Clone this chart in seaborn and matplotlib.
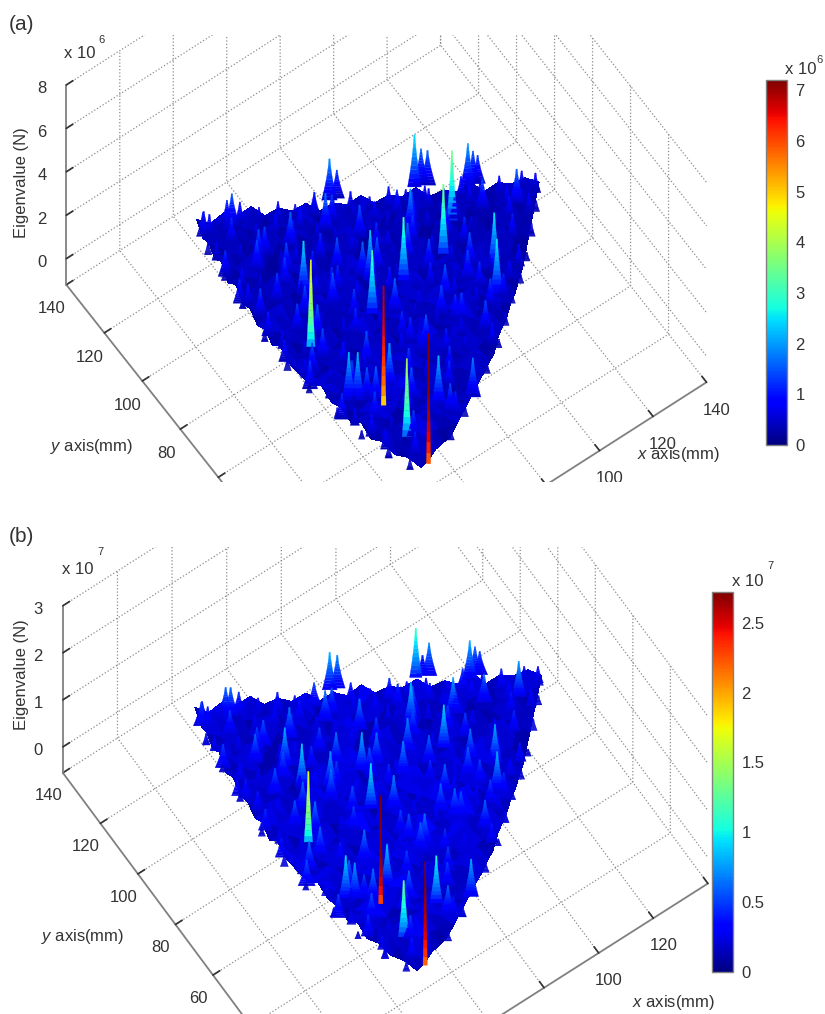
import numpy as np
import seaborn as sns
import matplotlib
import matplotlib.pyplot as plt
from matplotlib.cm import ScalarMappable
from matplotlib.colors import Normalize
from matplotlib.transforms import Bbox, ScaledTranslation, TransformedBbox
from mpl_toolkits.mplot3d.art3d import Poly3DCollection

W, H = 825, 1014
TEXT = '#333333'
AXIS = '#808080'

sns.set_theme(style='white', rc={'grid.linestyle': ':', 'grid.linewidth': 0.9, 'grid.color': '#8c8c8c',
                                 'text.color': TEXT, 'xtick.color': TEXT, 'ytick.color': TEXT,
                                 'axes.labelcolor': TEXT})
plt.rcParams['font.family'] = ['Liberation Sans', 'DejaVu Sans']
plt.rcParams['mathtext.fontset'] = 'custom'
plt.rcParams['mathtext.it'] = 'Liberation Sans:italic'
plt.rcParams['mathtext.rm'] = 'Liberation Sans'
jet = matplotlib.colormaps['jet']

# outline of the eigenvalue surface in mm, fraction along each edge from the bottom tip
left_t = [0, 0.13, 0.35, 0.52, 0.82, 1]
left_x = [46, 40, 36, 33, 35, 38]
left_y = [18, 32, 55, 74, 106, 125]
right_t = [0, 0.2, 0.49, 0.74, 1]
right_x = [46, 63, 88, 109, 131]
right_y = [18, 23, 38, 54, 75.5]

# base heights, (a) in 1e5 N and (b) in 1e6 N, rows from bottom tip to far edge
base_a = [
    [4], [6, 3], [3, 8, 5], [7, 2, 9, 4], [3, 10, 4, 7, 2], [8, 3, 6, 12, 3, 6],
    [2, 9, 4, 3, 8, 5, 10], [6, 3, 13, 5, 2, 9, 3, 6], [4, 8, 2, 7, 11, 3, 7, 2, 9],
    [9, 3, 6, 2, 5, 14, 4, 8, 3, 5], [3, 11, 5, 8, 3, 6, 2, 10, 4, 7, 3],
    [7, 2, 6, 3, 12, 4, 8, 3, 6, 2, 11, 5], [4, 9, 3, 10, 2, 7, 3, 13, 5, 8, 3, 6, 2],
    [10, 3, 7, 4, 6, 2, 11, 4, 3, 9, 5, 12, 3, 6], [3, 6, 2, 12, 3, 9, 4, 6, 2, 14, 4, 7, 3, 9, 4],
    [7, 4, 10, 3, 5, 2, 13, 3, 8, 4, 6, 2, 10, 3, 7, 2], [2, 11, 3, 6, 2, 9, 4, 5, 2, 11, 3, 8, 4, 13, 2, 6, 4],
    [6, 3, 8, 4, 13, 3, 6, 2, 10, 4, 6, 2, 12, 3, 7, 3, 9, 2],
    [3, 9, 2, 5, 3, 7, 2, 12, 3, 7, 2, 14, 4, 5, 2, 10, 3, 6, 4],
    [8, 4, 6, 11, 2, 4, 10, 3, 6, 2, 9, 3, 6, 3, 11, 4, 7, 2, 8, 3],
    [2, 6, 3, 3, 8, 3, 5, 2, 13, 4, 6, 2, 10, 4, 3, 8, 2, 12, 3, 5, 2],
    [9, 3, 11, 4, 2, 10, 3, 7, 2, 5, 3, 11, 3, 6, 9, 2, 6, 3, 5, 10, 3, 4],
    [3, 7, 2, 6, 3, 5, 2, 9, 3, 12, 4, 2, 8, 3, 4, 2, 10, 3, 8, 2, 6, 3, 7],
    [6, 2, 8, 3, 12, 3, 7, 2, 6, 3, 7, 3, 5, 2, 11, 4, 3, 7, 2, 5, 3, 9, 3, 5],
    [2, 10, 3, 5, 2, 6, 3, 11, 2, 4, 9, 2, 12, 3, 6, 2, 8, 3, 12, 3, 6, 2, 6, 3, 7],
    [7, 3, 9, 6, 11, 4, 8, 5, 9, 3, 7, 5, 10, 4, 8, 6, 11, 4, 7, 5, 10, 3, 8, 6, 9, 5],
]
base_b = [
    [2], [3, 2], [2, 5, 3], [4, 2, 6, 2], [2, 6, 3, 4, 2], [5, 2, 4, 7, 2, 4],
    [2, 6, 3, 2, 5, 3, 6], [4, 2, 8, 3, 2, 6, 2, 4], [3, 5, 2, 4, 7, 2, 5, 2, 6],
    [6, 2, 4, 2, 3, 8, 3, 5, 2, 3], [2, 7, 3, 5, 2, 4, 2, 6, 3, 5, 2],
    [5, 2, 4, 2, 8, 3, 5, 2, 4, 2, 7, 3], [3, 6, 2, 7, 2, 5, 2, 8, 3, 5, 2, 4, 2],
    [7, 2, 5, 3, 4, 2, 7, 3, 2, 6, 3, 8, 2, 4], [2, 4, 2, 8, 2, 6, 3, 4, 2, 9, 3, 5, 2, 6, 3],
    [5, 3, 7, 2, 3, 2, 9, 2, 5, 3, 4, 2, 7, 2, 5, 2], [2, 7, 2, 4, 2, 6, 3, 3, 2, 7, 2, 5, 3, 9, 2, 4, 3],
    [4, 2, 5, 3, 9, 2, 4, 2, 7, 3, 4, 2, 8, 2, 5, 2, 6, 2],
    [2, 6, 2, 3, 2, 5, 2, 8, 2, 5, 2, 9, 3, 3, 2, 7, 2, 4, 3],
    [5, 3, 4, 7, 2, 3, 7, 2, 4, 2, 6, 2, 4, 2, 7, 3, 5, 2, 5, 2],
    [2, 4, 2, 2, 5, 2, 3, 2, 9, 3, 4, 2, 7, 3, 2, 5, 2, 8, 2, 3, 2],
    [6, 2, 7, 3, 2, 7, 2, 5, 2, 3, 2, 7, 2, 4, 6, 2, 4, 2, 3, 7, 2, 3],
    [2, 5, 2, 4, 2, 3, 2, 6, 2, 8, 3, 2, 5, 2, 3, 2, 7, 2, 5, 2, 4, 2, 5],
    [4, 2, 5, 2, 8, 2, 5, 2, 4, 2, 5, 2, 3, 2, 7, 3, 2, 5, 2, 3, 2, 6, 2, 3],
    [2, 7, 2, 3, 2, 4, 2, 7, 2, 3, 6, 2, 8, 2, 4, 2, 5, 2, 8, 2, 4, 2, 4, 2, 5],
    [5, 2, 6, 4, 7, 3, 5, 3, 6, 2, 5, 3, 7, 3, 5, 4, 7, 3, 5, 3, 7, 2, 5, 4, 6, 3],
]

# the tall peaks: position in mm, height in (a) 1e6 N, in (b) 1e7 N
peak_x = [50.1, 49.8, 49.7, 43.5, 52.2, 65.3, 79.6, 94.7, 103.4, 100.6, 102.9, 104.2, 76.9, 79.1, 47.5, 46.3,
          38.3, 113.9, 115.8, 117.0, 104.7, 100.2, 42.5, 44.7, 47.0, 55.2, 64.1, 73.9, 38.6, 71.3, 70.1, 91.1,
          84.6, 86.6, 95.5, 95.9, 59.2, 70.0, 58.0, 36.8, 34.3, 47.5, 51.8, 68.9, 69.8, 65.0, 122.7]
peak_y = [43.5, 19.4, 30.7, 72.5, 88.6, 70.9, 74.5, 74.8, 82.5, 98.3, 98.1, 96.5, 109.7, 108.9, 119.7, 120.6,
          122.0, 88.9, 88.9, 88.1, 62.1, 54.4, 51.1, 49.5, 47.9, 47.6, 34.3, 30.0, 64.9, 80.4, 82.7, 87.1,
          54.3, 62.5, 63.1, 51.8, 83.6, 102.1, 103.7, 89.7, 97.1, 105.7, 97.1, 55.9, 51.0, 29.4, 75.6]
peak_a = [5.5, 6.0, 3.6, 4.0, 2.4, 2.9, 2.9, 3.2, 3.2, 2.4, 1.6, 1.6, 1.9, 1.3, 1.5, 1.2,
          1.1, 2.0, 1.5, 1.3, 2.5, 2.5, 2.2, 2.2, 1.5, 2.0, 2.2, 1.8, 1.4, 2.3, 1.6, 1.9,
          1.2, 1.5, 1.4, 1.3, 1.2, 1.7, 1.6, 1.3, 1.1, 1.4, 1.4, 1.2, 1.0, 1.4, 1.6]
peak_b = [2.3, 2.2, 1.2, 1.5, 0.9, 0.95, 0.7, 0.9, 0.75, 1.05, 0.4, 0.7, 0.8, 0.7, 0.6, 0.6,
          0.5, 0.8, 0.6, 0.5, 0.8, 0.8, 0.9, 0.75, 0.5, 0.85, 1.0, 0.8, 0.6, 0.55, 0.8, 0.85,
          0.6, 0.6, 0.6, 0.5, 0.75, 0.65, 0.65, 0.4, 0.35, 0.5, 0.8, 0.55, 0.6, 0.6, 0.75]

# the many small bumps between them, same units
bump_x = [48, 55,
          42, 51, 58, 66,
          41, 47, 55, 60, 70, 78,
          39, 45, 52, 58, 66, 73, 81, 89,
          37, 43, 49, 57, 62, 69, 76, 83, 90, 97,
          38, 45, 52, 59, 65, 72, 79, 86, 93, 101, 106,
          35, 41, 48, 54, 62, 68, 75, 82, 89, 97, 103, 111,
          36, 44, 50, 57, 64, 71, 78, 85, 92, 99, 107, 115,
          34, 40, 47, 54, 60, 67, 74, 81, 88, 95, 102, 110, 118, 124,
          36, 43, 50, 57, 64, 71, 78, 85, 92, 99, 106, 113, 120, 127,
          35, 41, 48, 55, 61, 68, 75, 82, 89, 96, 104, 111,
          37, 44, 51, 58, 65, 72, 79, 86, 93, 100,
          36, 42, 49, 56, 63, 70, 77, 84, 91,
          38, 45, 52, 59, 66, 73, 79,
          36, 43, 50, 57, 64,
          37, 44, 51,
          40, 45]
bump_y = [24, 26,
          31, 29, 32, 28,
          37, 35, 38, 34, 37, 35,
          43, 41, 44, 40, 43, 41, 44, 41,
          47, 49, 46, 49, 47, 50, 47, 49, 46, 49,
          55, 53, 56, 53, 55, 52, 56, 53, 55, 52, 56,
          61, 59, 62, 58, 61, 59, 62, 58, 61, 59, 62, 58,
          65, 67, 64, 68, 65, 67, 64, 68, 65, 67, 64, 67,
          73, 71, 74, 70, 73, 71, 74, 70, 73, 71, 74, 70, 73, 71,
          77, 79, 76, 80, 77, 79, 76, 80, 77, 79, 76, 80, 77, 79,
          83, 85, 82, 86, 83, 85, 82, 86, 83, 85, 82, 84,
          89, 91, 88, 92, 89, 91, 88, 92, 89, 90,
          95, 97, 94, 98, 95, 97, 94, 96, 94,
          101, 103, 100, 104, 101, 103, 100,
          107, 109, 106, 110, 107,
          113, 115, 112,
          121, 119]
bump_a = [1.1, .8,
          .9, 1.3, .7, 1.1,
          1.0, .7, 1.4, .8, 1.2, .6,
          .8, 1.3, .7, 1.5, .9, 1.2, .7, 1.0,
          1.2, .7, 1.6, .9, 1.3, .7, 1.1, .8, 1.4, .7,
          .7, 1.4, .8, 1.1, .9, 1.5, .7, 1.3, .8, 1.1, .9,
          1.3, .7, 1.0, 1.5, .8, 1.2, .7, 1.4, .9, 1.2, .7, 1.0,
          .8, 1.4, .7, 1.2, .9, 1.6, .8, 1.1, .7, 1.5, .9, 1.1,
          1.0, .7, 1.5, .8, 1.3, .9, 1.1, .7, 1.4, .8, 1.2, .7, 1.0, .9,
          .8, 1.3, .7, 1.5, .9, 1.1, .7, 1.6, .8, 1.2, .7, 1.4, .9, .8,
          1.1, .7, 1.4, .9, 1.2, .7, 1.5, .8, 1.3, .7, 1.1, .9,
          .8, 1.3, .7, 1.1, 1.5, .8, 1.2, .7, 1.4, .9,
          1.0, .7, 1.3, .8, 1.2, .7, 1.5, .9, 1.1,
          .9, 1.4, .7, 1.1, .8, 1.3, .7,
          1.2, .7, 1.3, .9, 1.0,
          .8, 1.2, .7,
          1.0, .8]
bump_b = [.4, .3,
          .3, .5, .3, .4,
          .45, .25, .55, .3, .5, .25,
          .3, .55, .3, .6, .35, .5, .3, .4,
          .5, .3, .65, .35, .5, .3, .45, .3, .6, .3,
          .3, .6, .3, .45, .35, .65, .3, .55, .3, .45, .35,
          .55, .3, .4, .65, .3, .5, .3, .6, .35, .5, .3, .4,
          .3, .6, .3, .5, .35, .7, .3, .45, .3, .65, .35, .45,
          .4, .3, .65, .3, .55, .35, .45, .3, .6, .3, .5, .3, .4, .35,
          .3, .55, .3, .65, .35, .45, .3, .7, .3, .5, .3, .6, .35, .3,
          .45, .3, .6, .35, .5, .3, .65, .3, .55, .3, .45, .35,
          .3, .55, .3, .45, .65, .3, .5, .3, .6, .35,
          .4, .3, .55, .3, .5, .3, .65, .35, .45,
          .35, .6, .3, .45, .3, .55, .3,
          .5, .3, .55, .35, .4,
          .3, .5, .3,
          .4, .3]

# teeth along the far, right and left edges of the surface
edge_x = [40, 45, 50, 55, 60, 65, 70, 75, 80, 85, 90, 95, 100, 105, 110, 115, 120, 125, 130,
          60, 68, 75, 82, 90, 96, 102, 108, 114, 120, 126, 130,
          44, 41, 38, 36, 34, 33, 33, 34, 35, 36]
edge_y = [124, 121, 119, 116, 113, 111, 108, 105, 103, 100, 97, 95, 92, 89, 87, 84, 81, 79, 76,
          22, 26, 30, 34, 39, 44, 49, 53, 58, 64, 70, 75,
          21, 28, 38, 48, 60, 70, 82, 95, 106, 116]
edge_a = [.8, .6, 1.0, .7, .9, .6, 1.1, .7, .9, .6, 1.0, .7, .8, .6, 1.0, .7, .9, .6, .8,
          .5, .6, .4, .5, .4, .6, .5, .5, .4, .6, .5, .5,
          .5, .6, .4, .5, .4, .6, .5, .5, .4, .6]
edge_b = [.35, .25, .45, .3, .4, .25, .5, .3, .4, .25, .45, .3, .35, .25, .45, .3, .4, .25, .35,
          .2, .25, .15, .2, .15, .25, .2, .2, .15, .25, .2, .2,
          .2, .25, .15, .2, .15, .25, .2, .2, .15, .25]

xy_ticks = [20, 40, 60, 80, 100, 120, 140]
xlabels_a = ['', '', '', '', '100', '120', '140']
ylabels_a = ['', '', '', '80', '100', '120', '140']
xlabels_b = ['', '', '', '', '100', '120', '']
ylabels_b = ['', '', '60', '80', '100', '120', '140']
zticks_a = [0, 2, 4, 6, 8]
zticks_b = [0, 1, 2, 3]
cticks_a = [0, 1, 2, 3, 4, 5, 6, 7]
cticks_b = [0, 0.5, 1, 1.5, 2, 2.5]
clabels_b = ['0', '0.5', '1', '1.5', '2', '2.5']

fig = plt.figure(figsize=(W / 100, H / 100), dpi=100)


def surface_points(rows, scale):
    xs, ys, zs = [], [], []
    n = len(rows)
    for i, row in enumerate(rows):
        t = i / (n - 1)
        x0, y0 = np.interp(t, left_t, left_x), np.interp(t, left_t, left_y)
        x1, y1 = np.interp(t, right_t, right_x), np.interp(t, right_t, right_y)
        xs.extend(np.linspace(x0, x1, len(row)))
        ys.extend(np.linspace(y0, y1, len(row)))
        zs.extend(np.array(row) * scale)
    return np.array(xs), np.array(ys), np.array(zs)


def spikes(ax, heights, floor, vmax, azim):
    all_x = np.array(peak_x + bump_x + edge_x)
    all_y = np.array(peak_y + bump_y + edge_y)
    all_h = np.array(heights)
    # each spike is a blade turned towards the viewer, narrowing to the top
    rx, ry = -np.sin(np.radians(azim)), np.cos(np.radians(azim))
    t = np.linspace(0, 1, 13)
    verts, cols = [], []
    for k in range(len(all_x)):
        frac = all_h[k] / vmax
        power = np.interp(frac, [0.2, 0.5, 0.8], [1.0, 0.4, 0.1])
        boost = np.interp(frac, [0.3, 0.75], [1.0, 1.25])
        w0 = np.interp(frac, [0.05, 0.1, 0.2, 0.5, 0.8], [5, 7, 16, 8, 3]) / 3.3
        half = (w0 * (1 - t) ** 1.5 + 1.4 / 3.3) / 2
        z = all_h[k] * t
        for j in range(12):
            verts.append([(all_x[k] - rx * half[j], all_y[k] - ry * half[j], z[j]),
                          (all_x[k] + rx * half[j], all_y[k] + ry * half[j], z[j]),
                          (all_x[k] + rx * half[j + 1], all_y[k] + ry * half[j + 1], z[j + 1]),
                          (all_x[k] - rx * half[j + 1], all_y[k] - ry * half[j + 1], z[j + 1])])
            cols.append(jet((floor + (all_h[k] * boost - floor) * t[j + 1] ** power) / vmax))
    ax.add_collection3d(Poly3DCollection(verts, facecolors=cols, edgecolors=cols, linewidths=0.2, zorder=3))


def panel(px_left, px_bottom, px_size, elev, azim, box, zlim, zticks, rows, scale, heights, floor, vmax, crop,
          xlabels, ylabels, shifts):
    ax = fig.add_axes([px_left / W, px_bottom / H, px_size / W, px_size / H], projection='3d',
                      proj_type='ortho', computed_zorder=False)
    ax.patch.set_visible(False)
    ax.view_init(elev=elev, azim=azim)
    ax.set_box_aspect(box)

    xs, ys, zs = surface_points(rows, scale)
    ax.plot_trisurf(xs, ys, zs, cmap=jet, vmin=0, vmax=vmax, linewidth=0, antialiased=False, shade=False, zorder=2)
    spikes(ax, heights, floor, vmax, azim)

    ax.set_xlim(0, 140, view_margin=0)
    ax.set_ylim(0, 140, view_margin=0)
    ax.set_zlim(zlim[0], zlim[1], view_margin=0)
    ax.set_xticks(xy_ticks, labels=xlabels)
    ax.set_yticks(xy_ticks, labels=ylabels)
    ax.set_zticks(zticks)
    ax.tick_params(axis='both', labelsize=12, pad=3, labelcolor=TEXT)
    for axis in (ax.xaxis, ax.yaxis, ax.zaxis):
        axis.set_pane_color((1, 1, 1, 0))
        axis.pane.set_edgecolor('none')
        axis.line.set_color(AXIS)
        axis.line.set_linewidth(1.3)
        axis._axinfo['tick']['inward_factor'] = 0
        axis._axinfo['tick']['outward_factor'] = 0.22
        axis._axinfo['tick']['color'] = AXIS

    # crop the box like the original figure was cropped
    fig.canvas.draw()
    box_px = Bbox([[0, (H - crop[1]) / 100], [W / 100, (H - crop[0]) / 100]])
    clip = TransformedBbox(box_px, fig.dpi_scale_trans)
    items = list(ax.collections)
    for axis, shift in zip((ax.xaxis, ax.yaxis, ax.zaxis), shifts):
        items += [axis.line, axis.pane, axis.gridlines]
        for tick in axis.get_major_ticks():
            items += [tick.tick1line, tick.tick2line, tick.label1, tick.label2, tick.gridline]
            tick.label1.set_transform(ax.transData + ScaledTranslation(shift[0] / 100, shift[1] / 100,
                                                                       fig.dpi_scale_trans))
    for item in items:
        item.set_clip_box(clip)
        item.set_clip_path(None)
        item.set_clip_on(True)
    return ax


def colorbar(px_left, px_top, px_width, px_bottom, vmax, ticks, labels=None):
    cax = fig.add_axes([px_left / W, (H - px_bottom) / H, px_width / W, (px_bottom - px_top) / H])
    cb = fig.colorbar(ScalarMappable(Normalize(0, vmax), jet), cax=cax)
    cb.set_ticks(ticks)
    if labels:
        cb.set_ticklabels(labels)
    cax.tick_params(axis='y', direction='in', length=3, width=0.8, left=True, right=True, labelsize=12,
                    pad=6, color='#333333')
    cb.outline.set_edgecolor(AXIS)
    cb.outline.set_linewidth(1.0)


def label(px_x, px_y, text, size=12, **kw):
    fig.text(px_x / W, 1 - px_y / H, text, fontsize=size, color=TEXT, va='center', **kw)


panel(-10, H - 630, 772, 64.2, -125.4, (1, 1, 1), (-1.2, 8), zticks_a, base_a, 0.07, peak_a + bump_a + edge_a, 0.3, 7.2,
      (35, 482), xlabels_a, ylabels_a, [(14, 6), (-10, 4), (7, 9)])
panel(-9, -125, 768, 67.8, -124.5, (1, 1, 0.953), (-0.55, 3), zticks_b, base_b, 0.05, peak_b + bump_b + edge_b, 0.2, 2.72,
      (547, 1014), xlabels_b, ylabels_b, [(12, 3), (-9, 2), (9, 10)])
colorbar(766, 80, 21, 445, 7.2, cticks_a)
colorbar(712, 592, 21, 972, 2.72, cticks_b, clabels_b)

label(9, 24, '(a)', 15)
label(9, 536, '(b)', 15)
label(22, 183, 'Eigenvalue (N)', rotation=90, ha='center')
label(22, 675, 'Eigenvalue (N)', rotation=90, ha='center')
label(64, 54, 'x 10')
label(98, 40, '6', 8)
label(62, 569, 'x 10')
label(97, 552, '7', 8)
label(785, 70, 'x 10')
label(816, 60, '6', 8)
label(732, 582, 'x 10')
label(767, 566, '7', 8)
label(50, 446, r'$\mathit{y}$ axis(mm)')
label(41, 937, r'$\mathit{y}$ axis(mm)')
label(637, 455, r'$\mathit{x}$ axis(mm)')
label(632, 1002, r'$\mathit{x}$ axis(mm)')

fig.savefig('out.png', dpi=100)
